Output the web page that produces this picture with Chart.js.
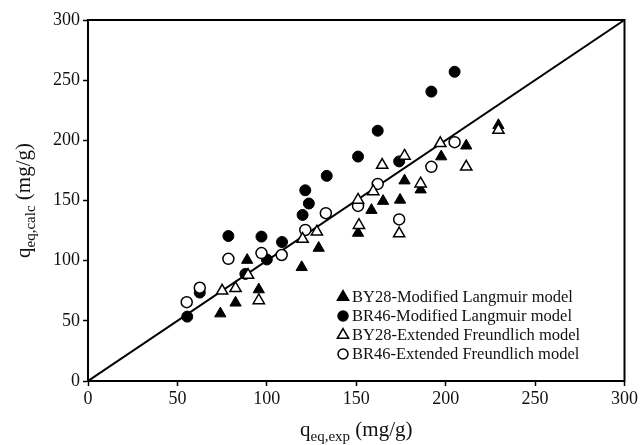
<!DOCTYPE html>
<html>
<head>
<meta charset="utf-8">
<script src="https://cdn.jsdelivr.net/npm/chart.js@4"></script>
<style>
  html, body { margin: 0; padding: 0; background: #fff; }
  #wrap { width: 640px; height: 445px; position: relative; }
</style>
</head>
<body>
<div id="wrap"><canvas id="myChart" width="640" height="445"></canvas></div>
<script>
// axis ticks
const xTicks = [0, 50, 100, 150, 200, 250, 300];
const yTicks = [0, 50, 100, 150, 200, 250, 300];

// series names
const seriesNames = [
    'BY28-Modified Langmuir model',
    'BR46-Modified Langmuir model',
    'BY28-Extended Freundlich model',
    'BR46-Extended Freundlich model'
];

// BY28 - modified Langmuir (filled triangles)
const by28LangExp  = [74, 82.5, 95.5, 89, 119.5, 129, 151, 158.5, 165, 174.5, 177, 186, 197.5, 211.5, 229.5];
const by28LangCalc = [56, 65, 76, 100.5, 94.5, 110.5, 123, 142, 149.5, 150.5, 166.5, 159, 186.5, 195.5, 212.5];

// BR46 - modified Langmuir (filled circles)
const br46LangExp  = [55.5, 62.5, 78.5, 88, 97, 100, 108.5, 120, 121.5, 123.5, 133.5, 151, 162, 174, 192, 205];
const br46LangCalc = [53.5, 73.5, 120.5, 89, 120, 101, 115.5, 138, 158.5, 147.5, 170.5, 186.5, 208, 182.5, 240.5, 257];

// BY28 - extended Freundlich (open triangles)
const by28FreuExp  = [75, 82.5, 89.5, 95.5, 120, 128, 151.5, 151, 159.5, 164.5, 174, 177, 186, 197, 211.5, 229.5];
const by28FreuCalc = [75, 77, 88, 67, 118, 124, 129.5, 150.5, 157.5, 179.5, 122.5, 187, 164, 197.5, 178, 208.5];

// BR46 - extended Freundlich (open circles)
const br46FreuExp  = [55.2, 62.5, 78.5, 97, 108.3, 121.5, 133, 151, 162, 174, 192, 205];
const br46FreuCalc = [65.5, 77.5, 101.5, 106.3, 104.7, 125.5, 139.5, 145.5, 163.8, 134.3, 178, 198.5];

// 1:1 line
const diagX = [0, 300];
const diagY = [0, 300];

const serif = '"Liberation Serif", "Times New Roman", serif';

function toPoints(xs, ys) {
    return xs.map((v, i) => ({ x: v, y: ys[i] }));
}

// draw a marker by style
function drawMarker(ctx, style, filled, x, y, r) {
    ctx.save();
    ctx.lineWidth = 1.5;
    ctx.strokeStyle = '#000';
    ctx.fillStyle = filled ? '#000' : '#fff';
    ctx.beginPath();
    if (style === 'circle') {
        ctx.arc(x, y, r, 0, Math.PI * 2);
    } else {
        ctx.moveTo(x, y - r);
        ctx.lineTo(x + r * 0.866, y + r * 0.5);
        ctx.lineTo(x - r * 0.866, y + r * 0.5);
        ctx.closePath();
    }
    ctx.fill();
    ctx.stroke();
    ctx.restore();
}

// write "q" + subscript + units
function drawTitle(ctx, sub, x, y) {
    const big = '21px ' + serif;
    const small = '15px ' + serif;
    const parts = [['q', big, 0], [sub, small, 5], [' (mg/g)', big, 0]];
    let w = 0;
    parts.forEach(p => { ctx.font = p[1]; w += ctx.measureText(p[0]).width; });
    let cx = x - w / 2;
    parts.forEach(p => {
        ctx.font = p[1];
        ctx.fillText(p[0], cx, y + p[2]);
        cx += ctx.measureText(p[0]).width;
    });
}

// frame + titles + legend
const extras = {
    id: 'extras',
    afterDraw(chart) {
        const ctx = chart.ctx;
        const a = chart.chartArea;
        ctx.save();
        ctx.strokeStyle = '#000';
        ctx.lineWidth = 2;
        ctx.strokeRect(a.left, a.top, a.right - a.left, a.bottom - a.top);

        ctx.fillStyle = '#111';
        ctx.textBaseline = 'alphabetic';
        drawTitle(ctx, 'eq,exp', (a.left + a.right) / 2, 436);

        ctx.translate(30, (a.top + a.bottom) / 2);
        ctx.rotate(-Math.PI / 2);
        drawTitle(ctx, 'eq,calc', 0, 0);
        ctx.restore();

        // legend
        const legendStyles = [['triangle', true], ['circle', true], ['triangle', false], ['circle', false]];
        ctx.save();
        ctx.font = '16.5px ' + serif;
        ctx.fillStyle = '#111';
        ctx.textBaseline = 'middle';
        seriesNames.forEach((name, i) => {
            const y = 297 + i * 19;
            const st = legendStyles[i];
            drawMarker(ctx, st[0], st[1], 343, y, st[0] === 'circle' ? 5 : 6.5);
            ctx.fillText(name, 352, y + 1);
        });
        ctx.restore();
    }
};

const ctx = document.getElementById('myChart').getContext('2d');
const myChart = new Chart(ctx, {
    type: 'scatter',
    data: {
        datasets: [
            {
                label: '1:1',
                type: 'line',
                data: toPoints(diagX, diagY),
                borderColor: '#000',
                borderWidth: 2,
                pointStyle: 'cross',
                pointRadius: 3,
                pointBorderColor: '#3aa6a6',
                pointBorderWidth: 1.5,
                order: 5
            },
            {
                label: seriesNames[2],
                data: toPoints(by28FreuExp, by28FreuCalc),
                pointStyle: 'triangle',
                pointRadius: 6.5,
                backgroundColor: '#fff',
                borderColor: '#000',
                borderWidth: 1.5
            },
            {
                label: seriesNames[3],
                data: toPoints(br46FreuExp, br46FreuCalc),
                pointStyle: 'circle',
                pointRadius: 5.5,
                backgroundColor: '#fff',
                borderColor: '#000',
                borderWidth: 1.5
            },
            {
                label: seriesNames[0],
                data: toPoints(by28LangExp, by28LangCalc),
                pointStyle: 'triangle',
                pointRadius: 6.5,
                backgroundColor: '#000',
                borderColor: '#000',
                borderWidth: 1
            },
            {
                label: seriesNames[1],
                data: toPoints(br46LangExp, br46LangCalc),
                pointStyle: 'circle',
                pointRadius: 5.5,
                backgroundColor: '#000',
                borderColor: '#000',
                borderWidth: 1
            }
        ]
    },
    options: {
        responsive: false,
        animation: false,
        layout: { padding: { top: 20, right: 12, left: 0, bottom: 0 } },
        plugins: {
            legend: { display: false },
            tooltip: { enabled: false }
        },
        scales: {
            x: {
                type: 'linear',
                min: 0,
                max: 300,
                afterBuildTicks: s => { s.ticks = xTicks.map(v => ({ value: v })); },
                afterFit: s => { s.height = 64; },
                grid: { drawOnChartArea: false, drawTicks: true, tickLength: 5, tickColor: '#000', tickWidth: 1.5 },
                border: { display: true, color: '#000', width: 2 },
                ticks: { color: '#111', font: { family: serif, size: 18 }, padding: 2, maxRotation: 0 }
            },
            y: {
                type: 'linear',
                min: 0,
                max: 300,
                afterBuildTicks: s => { s.ticks = yTicks.map(v => ({ value: v })); },
                afterFit: s => { s.width = 88; },
                grid: { drawOnChartArea: false, drawTicks: true, tickLength: 5, tickColor: '#000', tickWidth: 1.5 },
                border: { display: true, color: '#000', width: 2 },
                ticks: { color: '#111', font: { family: serif, size: 18 }, padding: 3 }
            }
        }
    },
    plugins: [extras]
});
</script>
</body>
</html>
